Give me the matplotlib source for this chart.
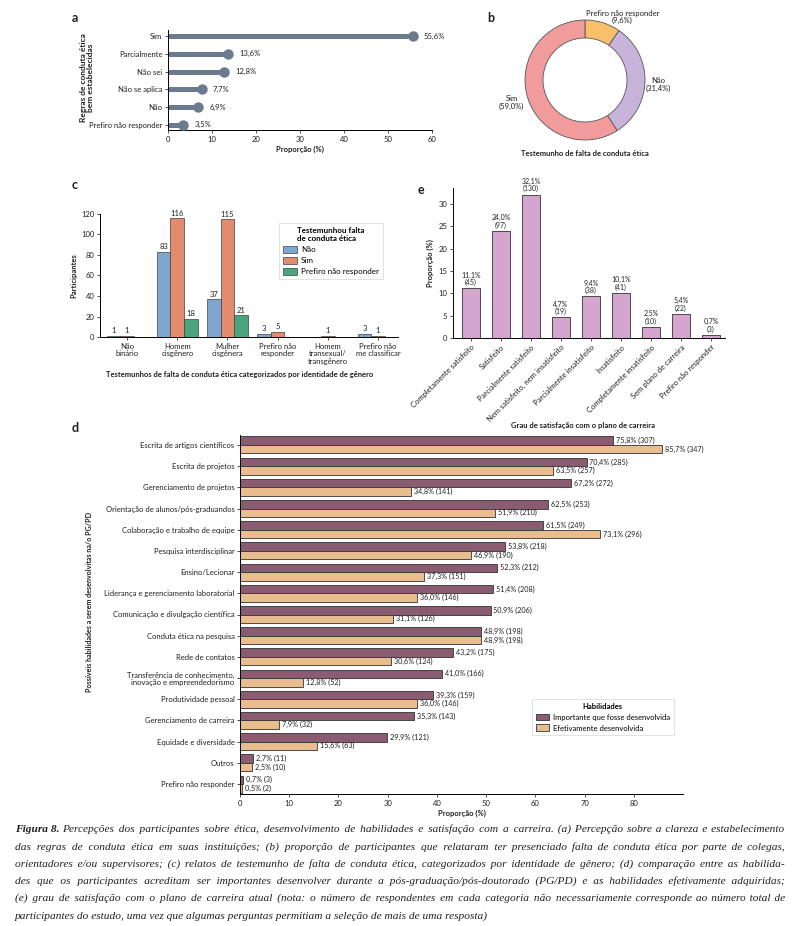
"""Figura 8: ética, habilidades e satisfação com a carreira."""
import matplotlib
matplotlib.use("Agg")
import matplotlib.pyplot as plt
import numpy as np

plt.rcParams['font.family'] = ['Lato', 'DejaVu Sans']
plt.rcParams['axes.linewidth'] = 0.7
plt.rcParams['xtick.major.width'] = 0.6
plt.rcParams['ytick.major.width'] = 0.6
plt.rcParams['xtick.major.size'] = 2.5
plt.rcParams['ytick.major.size'] = 2.5
plt.rcParams['xtick.major.pad'] = 1.5
plt.rcParams['ytick.major.pad'] = 1.5

TXT = "#231f20"

# (a) regras de conduta ética
rules_labels = ["Sim", "Parcialmente", "Não sei", "Não se aplica", "Não", "Prefiro não responder"]
rules_values = [55.6, 13.6, 12.8, 7.7, 6.9, 3.5]

# (b) testemunho de falta de conduta ética
witness_labels = ["Prefiro não responder", "Não", "Sim"]
witness_values = [9.6, 31.4, 59.0]

# (c) testemunho por identidade de gênero
gender_labels = ["Não\nbinário", "Homem\ncisgênero", "Mulher\ncisgênera", "Prefiro não\nresponder",
                 "Homem\ntransexual/\ntransgênero", "Prefiro não\nme classificar"]
gender_nao = [1, 83, 37, 3, 0, 3]
gender_sim = [1, 116, 115, 5, 1, 1]
gender_pnr = [0, 18, 21, 0, 0, 0]

# (d) habilidades
skills = ["Escrita de artigos científicos", "Escrita de projetos", "Gerenciamento de projetos",
          "Orientação de alunos/pós-graduandos", "Colaboração e trabalho de equipe",
          "Pesquisa interdisciplinar", "Ensino/Lecionar", "Liderança e gerenciamento laboratorial",
          "Comunicação e divulgação científica", "Conduta ética na pesquisa", "Rede de contatos",
          "Transferência de conhecimento,\ninovação e empreendedorismo", "Produtividade pessoal",
          "Gerenciamento de carreira", "Equidade e diversidade", "Outros", "Prefiro não responder"]
skills_imp_pct = [75.8, 70.4, 67.2, 62.5, 61.5, 53.8, 52.3, 51.4, 50.9, 48.9, 43.2, 41.0, 39.3, 35.3, 29.9, 2.7, 0.7]
skills_imp_n = [307, 285, 272, 253, 249, 218, 212, 208, 206, 198, 175, 166, 159, 143, 121, 11, 3]
skills_eff_pct = [85.7, 63.5, 34.8, 51.9, 73.1, 46.9, 37.3, 36.0, 31.1, 48.9, 30.6, 12.8, 36.0, 7.9, 15.6, 2.5, 0.5]
skills_eff_n = [347, 257, 141, 210, 296, 190, 151, 146, 126, 198, 124, 52, 146, 32, 63, 10, 2]

# (e) satisfação com o plano de carreira
satis_labels = ["Completamente satisfeito", "Satisfeito", "Parcialmente satisfeito",
                "Nem satisfeito, nem insatisfeito", "Parcialmente insatisfeito", "Insatisfeito",
                "Completamente insatisfeito", "Sem plano de carreira", "Prefiro não responder"]
satis_pct = [11.1, 24.0, 32.1, 4.7, 9.4, 10.1, 2.5, 5.4, 0.7]
satis_n = [45, 97, 130, 19, 38, 41, 10, 22, 3]

caption_lines = [
    "Percepções dos participantes sobre ética, desenvolvimento de habilidades e satisfação com a carreira. (a) Percepção sobre a clareza e estabelecimento",
    "das regras de conduta ética em suas instituições; (b) proporção de participantes que relataram ter presenciado falta de conduta ética por parte de colegas,",
    "orientadores e/ou supervisores; (c) relatos de testemunho de falta de conduta ética, categorizados por identidade de gênero; (d) comparação entre as habilida-",
    "des que os participantes acreditam ser importantes desenvolver durante a pós-graduação/pós-doutorado (PG/PD) e as habilidades efetivamente adquiridas;",
    "(e) grau de satisfação com o plano de carreira atual (nota: o número de respondentes em cada categoria não necessariamente corresponde ao número total de",
    "participantes do estudo, uma vez que algumas perguntas permitiam a seleção de mais de uma resposta)",
]

W, H = 793, 926


def box(left, top, right, bottom):
    return [left / W, 1 - bottom / H, (right - left) / W, (bottom - top) / H]


def fx(x):
    return x / W


def fy(y):
    return 1 - y / H


def pt(v):
    return f"{v:.1f}".replace(".", ",")


def style_axes(ax, fs=5.5):
    ax.spines[["top", "right"]].set_visible(False)
    ax.tick_params(labelsize=fs, colors="#333333", labelcolor=TXT)


fig = plt.figure(figsize=(W / 100, H / 100), dpi=100)

# ---------- (a)
ax_a = fig.add_axes(box(168, 30, 432, 130))
ya = np.arange(len(rules_labels))[::-1]
ax_a.hlines(ya, 0, rules_values, color="#6b7a8c", lw=3.6, zorder=2)
ax_a.plot(rules_values, ya, "o", color="#6b7a8c", ms=6.5, zorder=3)
for v, y in zip(rules_values, ya):
    ax_a.annotate(pt(v) + "%", (v, y), xytext=(8, 0), textcoords="offset points",
                  va="center", fontsize=5.5, color=TXT)
ax_a.set_yticks(ya, rules_labels)
ax_a.set_xlim(0, 60)
ax_a.set_ylim(-0.3, 5.35)
ax_a.set_xticks(range(0, 61, 10))
ax_a.set_xlabel("Proporção (%)", fontsize=5.5, fontweight="bold", labelpad=2, color=TXT)
style_axes(ax_a)
fig.text(fx(87), fy(78), "Regras de conduta ética\nbem estabelecidas", rotation=90, ha="center",
         va="center", fontsize=6, fontweight="bold", color=TXT, linespacing=1.1)
fig.text(fx(72), fy(18), "a", fontsize=9, fontweight="bold", va="center", color=TXT)

# ---------- (b)
ax_b = fig.add_axes(box(510, 5, 660, 155))
ax_b.pie(witness_values, colors=["#f9bf6b", "#c8b4da", "#f19b9c"], startangle=90, counterclock=False,
         radius=1, wedgeprops=dict(width=0.3, edgecolor="#555555", linewidth=0.6))
ax_b.set_xlim(-1.25, 1.25)
ax_b.set_ylim(-1.25, 1.25)
ax_b.set_aspect("equal")
ax_b.axis("off")
b_pos = [(0.62, 1.05), (1.22, -0.08), (-1.22, -0.37)]
for lab, v, (x, y) in zip(witness_labels, witness_values, b_pos):
    ax_b.text(x, y, f"{lab}\n({pt(v)}%)", ha="center", va="center", fontsize=5.5, color=TXT,
              linespacing=1.1, clip_on=False)
fig.text(fx(585), fy(153), "Testemunho de falta de conduta ética", ha="center", va="center",
         fontsize=5.5, fontweight="bold", color=TXT)
fig.text(fx(487), fy(18), "b", fontsize=9, fontweight="bold", va="center", color=TXT)

# ---------- (c)
ax_c = fig.add_axes(box(100, 214, 398, 337))
xc = np.arange(len(gender_labels))
bw = 0.27
series_c = [(gender_nao, "Não", "#7ea6cf"), (gender_sim, "Sim", "#e38b6d"),
            (gender_pnr, "Prefiro não responder", "#4aa47f")]
for k, (vals, lab, col) in enumerate(series_c):
    xs = xc + (k - 1) * bw
    ax_c.bar(xs, vals, bw, color=col, edgecolor="#404040", linewidth=0.5, label=lab)
    for x, v in zip(xs, vals):
        if v > 0:
            ax_c.text(x, v + 1.5, str(v), ha="center", va="bottom", fontsize=5.5, color=TXT)
ax_c.set_xticks(xc, gender_labels, linespacing=1.1)
ax_c.set_xlim(-0.54, 5.4)
ax_c.set_ylim(0, 120)
ax_c.set_yticks(range(0, 121, 20))
ax_c.set_ylabel("Participantes", fontsize=5.5, fontweight="bold", labelpad=3, color=TXT)
style_axes(ax_c)
leg_c = ax_c.legend(loc="upper right", bbox_to_anchor=(fx(383), fy(223)), bbox_transform=fig.transFigure,
                    title="Testemunhou falta\nde conduta ética", fontsize=5.8, title_fontsize=5.8,
                    frameon=True, fancybox=False, edgecolor="#cccccc", handlelength=1.7,
                    handleheight=1.0, borderpad=0.5, labelspacing=0.45, handletextpad=0.5,
                    borderaxespad=0)
leg_c.get_title().set_fontweight("bold")
leg_c.get_frame().set_linewidth(0.5)
fig.text(fx(240), fy(375), "Testemunhos de falta de conduta ética categorizados por identidade de gênero",
         ha="center", va="center", fontsize=5.5, fontweight="bold", color=TXT)
fig.text(fx(72), fy(185), "c", fontsize=9, fontweight="bold", va="center", color=TXT)

# ---------- (e)
ax_e = fig.add_axes(box(453, 188, 725, 338))
xe = np.arange(len(satis_labels))
ax_e.bar(xe, satis_pct, 0.62, color="#d4a6cf", edgecolor="#333333", linewidth=0.6)
for x, v, n in zip(xe, satis_pct, satis_n):
    ax_e.text(x, v + 0.5, f"{pt(v)}%\n({n})", ha="center", va="bottom", fontsize=5, color=TXT,
              linespacing=1.0)
ax_e.set_xticks(xe)
ax_e.set_xticklabels(satis_labels, rotation=45, ha="right", rotation_mode="anchor", fontsize=5)
ax_e.set_xlim(-0.6, 8.47)
ax_e.set_ylim(0, 33.6)
ax_e.set_yticks(range(0, 31, 5))
ax_e.set_ylabel("Proporção (%)", fontsize=5.5, fontweight="bold", labelpad=3, color=TXT)
style_axes(ax_e)
fig.text(fx(583), fy(426), "Grau de satisfação com o plano de carreira", ha="center", va="center",
         fontsize=5.5, fontweight="bold", color=TXT)
fig.text(fx(418), fy(190), "e", fontsize=9, fontweight="bold", va="center", color=TXT)

# ---------- (d)
ax_d = fig.add_axes(box(240, 435, 683, 794))
yd = np.arange(len(skills))
bh = 0.4
ax_d.barh(yd - bh / 2, skills_imp_pct, bh, color="#8a5b71", edgecolor="#333333", linewidth=0.6,
          label="Importante que fosse desenvolvida")
ax_d.barh(yd + bh / 2, skills_eff_pct, bh, color="#e9bd8e", edgecolor="#333333", linewidth=0.6,
          label="Efetivamente desenvolvida")
for y, v, n in zip(yd, skills_imp_pct, skills_imp_n):
    ax_d.text(v + 0.6, y - bh / 2, f"{pt(v)}% ({n})", va="center", fontsize=5.2, color=TXT)
for y, v, n in zip(yd, skills_eff_pct, skills_eff_n):
    ax_d.text(v + 0.6, y + bh / 2, f"{pt(v)}% ({n})", va="center", fontsize=5.2, color=TXT)
ax_d.set_yticks(yd, skills, linespacing=1.05)
ax_d.set_ylim(16.47, -0.47)
ax_d.set_xlim(0, 90)
ax_d.set_xticks(range(0, 81, 10))
ax_d.set_xlabel("Proporção (%)", fontsize=5.5, fontweight="bold", labelpad=2, color=TXT)
style_axes(ax_d)
leg_d = ax_d.legend(loc="upper left", bbox_to_anchor=(fx(532), fy(699)), bbox_transform=fig.transFigure,
                    title="Habilidades", fontsize=5.5, title_fontsize=5.5, frameon=True, fancybox=False,
                    edgecolor="#cccccc", handlelength=1.7, handleheight=1.0, borderpad=0.5,
                    labelspacing=0.5, handletextpad=0.5, borderaxespad=0)
leg_d.get_title().set_fontweight("bold")
leg_d.get_frame().set_linewidth(0.5)
fig.text(fx(89), fy(602), "Possíveis habilidades a serem desenvolvitas na/o PG/PD", rotation=90,
         ha="center", va="center", fontsize=5.1, fontweight="bold", color=TXT)
fig.text(fx(72), fy(428), "d", fontsize=9, fontweight="bold", va="center", color=TXT)

# ---------- legenda da figura, justificada com espaços finos
renderer = fig.canvas.get_renderer()
cap_font = dict(family=["Liberation Serif", "DejaVu Serif"], style="italic", fontsize=8.2, color=TXT,
                va="baseline")
probe = fig.text(0, 0, "", **cap_font)


def text_w(s, weight="normal"):
    probe.set_text(s)
    probe.set_fontweight(weight)
    return probe.get_window_extent(renderer).width


HAIR = "\u200a"
hair_w = (text_w("a" + HAIR * 40 + "a") - text_w("aa")) / 40
space_w = text_w("a a") - text_w("aa")
x_right = 785
for i, line in enumerate(caption_lines):
    base = fy(832 + 17.3 * i)
    x0 = 15
    if i == 0:
        fig.text(fx(x0), base, "Figura 8.", fontweight="bold", **cap_font)
        x0 += text_w("Figura 8.", "bold") + space_w
    words = line.split(" ")
    if i < len(caption_lines) - 1:
        extra = (x_right - x0) - text_w(line)
        n_hair = max(0, int(round(extra / hair_w)))
        gaps = len(words) - 1
        per, rem = divmod(n_hair, gaps)
        out = words[0]
        for k, w in enumerate(words[1:]):
            out += " " + HAIR * (per + (1 if k < rem else 0)) + w
        line = out
    fig.text(fx(x0), base, line, **cap_font)
probe.remove()

fig.savefig("out.png", dpi=100)
